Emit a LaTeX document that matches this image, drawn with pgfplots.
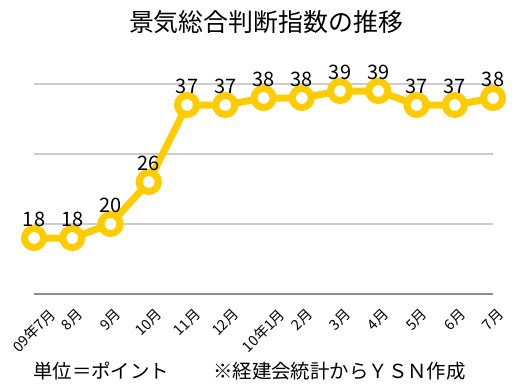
\documentclass[border=0pt]{standalone}
\usepackage{pgfplots}
\pgfplotsset{compat=1.18}
\usepackage{graphicx}
\usepackage{fontspec}
\setmainfont{Noto Sans CJK JP}
\definecolor{gold}{RGB}{255,204,0}
\newcommand{\rl}[1]{\rotatebox{45}{#1}}
\begin{document}
\begin{tikzpicture}[x=1bp,y=1bp]
\useasboundingbox (0,0) rectangle (522,391);
\begin{axis}[
  at={(34bp,97bp)}, anchor=south west,
  width=459bp, height=210bp, scale only axis,
  xmin=0, xmax=12, ymin=10, ymax=40,
  clip=false,
  axis x line*=bottom,
  axis y line*=left,
  y axis line style={draw=none},
  x axis line style={-, draw=black!45, line width=1.2bp},
  ytick={20,30,40},
  yticklabels={},
  xtick={0,...,12},
  xticklabels={\rl{09年7月},\rl{8月},\rl{9月},\rl{10月},\rl{11月},\rl{12月},\rl{10年1月},\rl{2月},\rl{3月},\rl{4月},\rl{5月},\rl{6月},\rl{7月}},
  major tick length=0pt,
  xticklabel shift=0pt,
  x tick label style={anchor=north, inner sep=0pt, font=\fontsize{14.5}{14.5}\selectfont, yshift=-13bp},
  ymajorgrids,
  major grid style={draw=black!20, line width=1.2bp},
  /pgf/number format/assume math mode=true,
  nodes near coords,
  every node near coord/.append style={font=\fontsize{20}{20}\selectfont, anchor=south, yshift=4bp, text=black},
]
\addplot[color=gold, line width=7bp, mark=*, mark size=9.5bp,
  mark options={fill=white, draw=gold, line width=7bp}]
  coordinates {(0,18) (1,18) (2,20) (3,26) (4,37) (5,37) (6,38) (7,38) (8,39) (9,39) (10,37) (11,37) (12,38)};
\end{axis}
\node[font=\fontsize{25}{25}\selectfont] at (266,369) {景気総合判断指数の推移};
\node[anchor=west, font=\fontsize{19.5}{19.5}\selectfont, inner sep=0pt] at (33,20) {単位＝ポイント};
\node[anchor=west, font=\fontsize{19.5}{19.5}\selectfont, inner sep=0pt] at (213,20) {※経建会統計からＹＳＮ作成};
\end{tikzpicture}
\end{document}
